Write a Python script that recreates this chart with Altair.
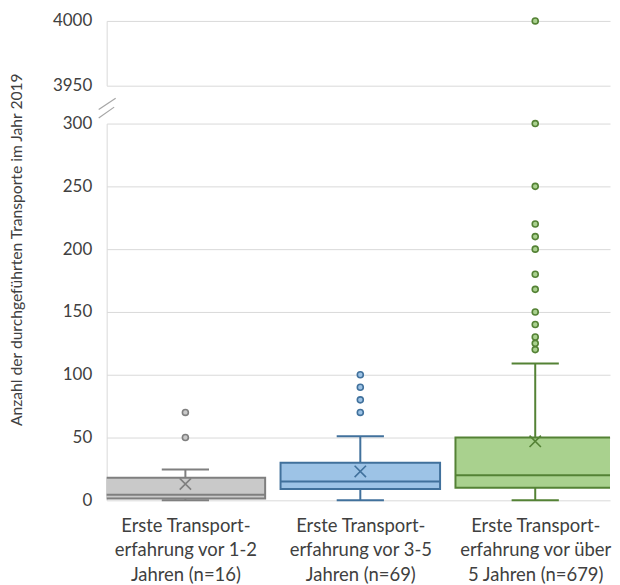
import json
import altair as alt
import pandas as pd

# ---------------- data ----------------
categories = [
    "Erste Transport-|erfahrung vor 1-2|Jahren (n=16)",
    "Erste Transport-|erfahrung vor 3-5|Jahren (n=69)",
    "Erste Transport-|erfahrung vor über|5 Jahren (n=679)",
]
groups = ["1-2", "3-5", ">5"]
whisker_low = [0, 0, 0]
q1 = [1.5, 9, 10]
median = [4.5, 15, 20]
q3 = [18, 30, 50]
whisker_high = [24.5, 51, 109]
mean = [13, 23, 47]
outliers_1 = [50, 70]
outliers_2 = [70, 80, 90, 100]
outliers_3 = [120, 125, 130, 140, 150, 168, 180, 200, 210, 220, 250, 300, 4000]

fill_colors = ["#c9c9c9", "#9dc3e6", "#a9d18e"]
stroke_colors = ["#7f7f7f", "#41719c", "#548235"]
point_fill = ["#bfbfbf", "#9dc3e6", "#a9d18e"]

lower_ticks = [0, 50, 100, 150, 200, 250, 300]
upper_ticks = [3950, 4000]
y_title = "Anzahl der durchgeführten Transporte im Jahr 2019"

FONT = "Lato"
TXT = "#404040"

# ---------------- tables ----------------
stats = pd.DataFrame({
    "idx": list(range(len(groups))),
    "grp": groups,
    "wlo": whisker_low,
    "q1": q1,
    "med": median,
    "q3": q3,
    "whi": whisker_high,
    "mean": mean,
})
out_rows = []
for i, vals in enumerate([outliers_1, outliers_2, outliers_3]):
    for v in vals:
        out_rows.append({"idx": i, "grp": groups[i], "v": v})
outl = pd.DataFrame(out_rows)

fill_scale = alt.Scale(domain=groups, range=fill_colors)
stroke_scale = alt.Scale(domain=groups, range=stroke_colors)
pfill_scale = alt.Scale(domain=groups, range=point_fill)

W = 505
STEP = 175.5
x_dom = [-0.45, -0.45 + W / STEP]
xsc = alt.Scale(domain=x_dom, nice=False, zero=False)
label_arr = json.dumps(categories, ensure_ascii=False)
x_axis = alt.Axis(
    values=[0, 1, 2],
    labelExpr=f"split({label_arr}[datum.value], '|')",
    grid=False, domain=False, ticks=False, title=None,
    labelFont=FONT, labelFontSize=18.5, labelColor=TXT,
    labelPadding=16, labelLineHeight=24.5, labelAlign="center",
    labelBaseline="top",
)
X = alt.X("idx:Q", scale=xsc, axis=x_axis)
X_hidden = alt.X("idx:Q", scale=xsc, axis=None)


def y_axis(values, title=None, titleY=None):
    kw = dict(
        values=values, grid=True, gridColor="#d9d9d9", domain=True,
        domainColor="#d9d9d9", ticks=False, labelFont=FONT, labelFontSize=17,
        labelColor=TXT, labelPadding=15, format="d",
    )
    if title:
        kw.update(title=title, titleFont=FONT, titleFontSize=15.7, titleFontWeight="normal",
                  titleColor=TXT, titlePadding=37.4, titleY=titleY)
    else:
        kw.update(title=None)
    return alt.Axis(**kw)


# ---------------- lower panel ----------------
ysc = alt.Scale(domain=[0, 300], nice=False, zero=False)

base = alt.Chart(stats).transform_calculate(
    bl="datum.idx - 0.456", br="datum.idx + 0.456",
    cl="datum.idx - 0.135", cr="datum.idx + 0.135",
)
S = alt.Stroke("grp:N", scale=stroke_scale, legend=None)

whisk = base.mark_rule(strokeWidth=2).encode(
    x=X, y=alt.Y("wlo:Q", scale=ysc, axis=y_axis(lower_ticks, y_title, 126)),
    y2="whi:Q", stroke=S)
cap_hi = base.mark_rule(strokeWidth=2).encode(
    x=alt.X("cl:Q", scale=xsc), x2="cr:Q",
    y=alt.Y("whi:Q", scale=ysc), stroke=S)
cap_lo = base.mark_rule(strokeWidth=2).encode(
    x=alt.X("cl:Q", scale=xsc), x2="cr:Q",
    y=alt.Y("wlo:Q", scale=ysc), stroke=S)
box = base.mark_bar(strokeWidth=2, clip=True).encode(
    x=alt.X("bl:Q", scale=xsc), x2="br:Q",
    y=alt.Y("q1:Q", scale=ysc), y2="q3:Q",
    fill=alt.Fill("grp:N", scale=fill_scale, legend=None), stroke=S)
med = base.mark_rule(strokeWidth=2, clip=True).encode(
    x=alt.X("bl:Q", scale=xsc), x2="br:Q",
    y=alt.Y("med:Q", scale=ysc), stroke=S)
mn = base.mark_point(shape="M-1,-1L1,1M-1,1L1,-1", size=130, strokeWidth=1.6,
                     filled=False, opacity=1).encode(
    x=X, y=alt.Y("mean:Q", scale=ysc), stroke=S)
pts_low = alt.Chart(outl).transform_filter("datum.v <= 300").mark_point(
    shape="circle", size=36, strokeWidth=1.6, filled=False, opacity=1).encode(
    x=X, y=alt.Y("v:Q", scale=ysc), stroke=S,
    fill=alt.Fill("grp:N", scale=pfill_scale, legend=None))

dummy = pd.DataFrame({"a": [0]})
brk1 = alt.Chart(dummy).mark_rule(color="#a6a6a6", strokeWidth=1.2).encode(
    x=alt.value(-8), x2=alt.value(9), y=alt.value(-14), y2=alt.value(-25.5))
brk2 = alt.Chart(dummy).mark_rule(color="#a6a6a6", strokeWidth=1.2).encode(
    x=alt.value(-8), x2=alt.value(7.5), y=alt.value(-5.5), y2=alt.value(-16.5))

lower = alt.layer(whisk, cap_hi, cap_lo, box, med, mn, pts_low, brk1, brk2).properties(
    width=W, height=378)

# ---------------- upper panel ----------------
ysc_u = alt.Scale(domain=[3950, 4000], nice=False, zero=False)
pts_up = alt.Chart(outl).transform_filter("datum.v >= 3950").mark_point(
    shape="circle", size=36, strokeWidth=1.6, filled=False, opacity=1).encode(
    x=X_hidden, y=alt.Y("v:Q", scale=ysc_u, axis=y_axis(upper_ticks)),
    stroke=S, fill=alt.Fill("grp:N", scale=pfill_scale, legend=None))
upper = pts_up.properties(width=W, height=65)

chart = alt.vconcat(upper, lower, spacing=38, bounds="flush").resolve_scale(
    fill="independent", stroke="independent"
).properties(
    padding={"top": 3, "left": 1, "right": 0, "bottom": 0}
).configure_view(stroke=None)

chart.save("out.html", embed_options={"renderer": "svg", "actions": False})
